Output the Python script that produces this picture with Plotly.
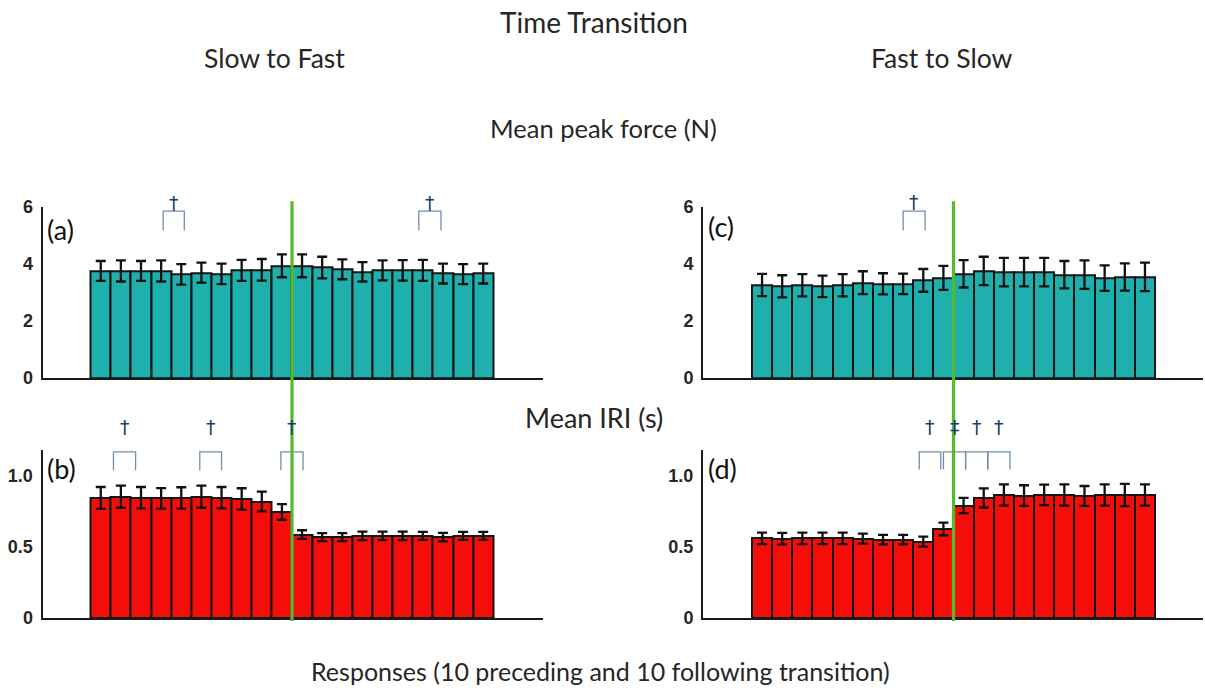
import plotly.graph_objects as go
from plotly.subplots import make_subplots

# Response index: 10 before and 10 after the tempo transition
responses = list(range(1, 21))

# Mean peak force (N), slow-to-fast and fast-to-slow
force_slow_fast = [3.76, 3.76, 3.76, 3.76, 3.64, 3.70, 3.66, 3.78, 3.80, 3.94,
                   3.94, 3.88, 3.82, 3.73, 3.78, 3.78, 3.78, 3.67, 3.65, 3.67]
force_slow_fast_err = [0.35, 0.37, 0.35, 0.37, 0.36, 0.35, 0.36, 0.37, 0.38, 0.40,
                       0.40, 0.38, 0.35, 0.34, 0.35, 0.36, 0.37, 0.35, 0.35, 0.35]
force_fast_slow = [3.27, 3.22, 3.26, 3.22, 3.26, 3.35, 3.31, 3.31, 3.43, 3.52,
                   3.66, 3.76, 3.72, 3.72, 3.72, 3.63, 3.63, 3.51, 3.55, 3.55]
force_fast_slow_err = [0.39, 0.39, 0.39, 0.38, 0.39, 0.40, 0.37, 0.36, 0.40, 0.42,
                       0.48, 0.50, 0.50, 0.50, 0.50, 0.48, 0.50, 0.45, 0.48, 0.50]

# Mean inter-response interval (s)
iri_slow_fast = [0.843, 0.852, 0.845, 0.840, 0.843, 0.852, 0.845, 0.836, 0.818, 0.745,
                 0.586, 0.568, 0.568, 0.577, 0.577, 0.577, 0.577, 0.568, 0.577, 0.577]
iri_slow_fast_err = [0.077, 0.078, 0.075, 0.072, 0.075, 0.078, 0.075, 0.075, 0.070, 0.055,
                     0.030, 0.028, 0.028, 0.030, 0.030, 0.030, 0.028, 0.030, 0.028, 0.028]
iri_fast_slow = [0.559, 0.557, 0.559, 0.559, 0.559, 0.557, 0.550, 0.550, 0.536, 0.625,
                 0.790, 0.843, 0.864, 0.860, 0.864, 0.864, 0.857, 0.864, 0.864, 0.864]
iri_fast_slow_err = [0.040, 0.040, 0.040, 0.040, 0.040, 0.035, 0.033, 0.033, 0.035, 0.045,
                     0.053, 0.067, 0.075, 0.072, 0.072, 0.075, 0.070, 0.075, 0.078, 0.075]

# Significant comparisons between adjacent responses: (start, end, symbol)
sig_a = [(4.10, 5.15, "†"), (16.80, 17.90, "†")]
sig_b = [(1.63, 2.73, "†"), (5.92, 7.00, "†"), (9.95, 11.05, "†")]
sig_c = [(8.00, 9.09, "†")]
sig_d = [(8.80, 9.87, "†"), (10.00, 11.10, "‡"), (11.10, 12.20, "†"), (12.20, 13.30, "†")]

transition = 10.5

W, H = 1205, 695
TEAL = "#1fb0ae"
RED = "#f50d0a"
GREEN = "#55bb2a"
BRACKET = "#6f8fae"
DAGGER = "#1f3d66"
TXT = "#262626"
TEXT_FONT = "Lato"


def px_x(p):
    return p / W


def px_y(p):
    return 1 - p / H


fig = make_subplots(rows=2, cols=2)

panels = [
    (1, 1, force_slow_fast, force_slow_fast_err, TEAL),
    (2, 1, iri_slow_fast, iri_slow_fast_err, RED),
    (1, 2, force_fast_slow, force_fast_slow_err, TEAL),
    (2, 2, iri_fast_slow, iri_fast_slow_err, RED),
]
for r, c, vals, errs, col in panels:
    fig.add_trace(go.Bar(
        x=responses, y=vals, width=1.0,
        marker=dict(color=col, line=dict(color="#151515", width=2)),
        error_y=dict(type="data", array=errs, visible=True,
                     color="#111111", thickness=2.3, width=5),
        showlegend=False, hoverinfo="skip",
    ), row=r, col=c)

# Axis geometry (paper fractions)
x_left = [px_x(42.5), px_x(543)]
x_right = [px_x(703), px_x(1203)]
y_top = [px_y(379), px_y(203)]
y_bot = [px_y(626), px_y(453)]

xcommon = dict(showgrid=False, zeroline=False, showticklabels=False, ticks="",
               showline=True, linecolor="#1a1a1a", linewidth=2)
ycommon = dict(showgrid=False, zeroline=False, ticks="", showline=True,
               linecolor="#1a1a1a", linewidth=2, ticklabelstandoff=4,
               tickfont=dict(family="Liberation Sans", size=18, color=TXT, weight="bold"))

fig.update_layout(
    xaxis=dict(domain=x_left, range=[-1.894, 22.97], **xcommon),
    xaxis2=dict(domain=x_right, range=[-1.93, 22.88], **xcommon),
    xaxis3=dict(domain=x_left, range=[-1.894, 22.97], **xcommon),
    xaxis4=dict(domain=x_right, range=[-1.93, 22.88], **xcommon),
    yaxis=dict(domain=y_top, range=[0, 6], tickvals=[0, 2, 4, 6],
               ticktext=["0", "2", "4", "6"], **ycommon),
    yaxis2=dict(domain=y_top, range=[0, 6], tickvals=[0, 2, 4, 6],
                ticktext=["0", "2", "4", "6"], **ycommon),
    yaxis3=dict(domain=y_bot, range=[0, 1.18], tickvals=[0, 0.5, 1.0],
                ticktext=["0", "0.5", "1.0"], **ycommon),
    yaxis4=dict(domain=y_bot, range=[0, 1.18], tickvals=[0, 0.5, 1.0],
                ticktext=["0", "0.5", "1.0"], **ycommon),
    bargap=0,
    width=W, height=H,
    margin=dict(l=0, r=0, t=0, b=0),
    paper_bgcolor="white", plot_bgcolor="white",
)

# Significance brackets and daggers
sig_sets = [
    (sig_a, "x", 207, 227, 185),
    (sig_b, "x3", 455, 474, 429),
    (sig_c, "x2", 207, 227, 184),
    (sig_d, "x4", 455, 473, 429),
]
for spans, xref, top, bottom, ytxt in sig_sets:
    for x0, x1, sym in spans:
        fig.add_shape(type="path", xref=xref, yref="paper",
                      path=f"M {x0},{px_y(bottom)} L {x0},{px_y(top)} L {x1},{px_y(top)} L {x1},{px_y(bottom)}",
                      line=dict(color=BRACKET, width=1.3), layer="above")
        fig.add_annotation(x=(x0 + x1) / 2, y=px_y(ytxt), xref=xref, yref="paper",
                           text=sym, showarrow=False,
                           font=dict(family="DejaVu Sans", size=19, color=DAGGER))

# Transition lines spanning both panels of each column
for xref in ["x", "x2"]:
    fig.add_shape(type="line", xref=xref, yref="paper",
                  x0=transition, x1=transition, y0=px_y(197), y1=px_y(629),
                  line=dict(color=GREEN, width=3.2), layer="above")

# Panel letters
for lbl, xp, yp in [("(a)", 45, 226), ("(b)", 45, 472), ("(c)", 706, 223), ("(d)", 706, 472)]:
    fig.add_annotation(x=px_x(xp), y=px_y(yp), xref="paper", yref="paper",
                       text=lbl, showarrow=False, xanchor="left", yanchor="middle",
                       font=dict(family=TEXT_FONT, size=27, color="#111111"))

# Titles: (text, centre x, centre y, size)
titles = [
    ("Time Transition", 594, 12, 28),
    ("Slow to Fast", 274, 49, 26.5),
    ("Fast to Slow", 942, 49, 26.5),
    ("Mean peak force (N)", 603, 121, 25.5),
    ("Mean IRI (s)", 594, 420, 27),
    ("Responses (10 preceding and 10 following transition)", 600, 681, 25),
]
for txt, xp, yp, sz in titles:
    fig.add_annotation(x=px_x(xp), y=px_y(yp), xref="paper", yref="paper",
                       text=txt, showarrow=False, xanchor="center", yanchor="middle",
                       font=dict(family=TEXT_FONT, size=sz, color=TXT))

fig.write_html("out.html")
